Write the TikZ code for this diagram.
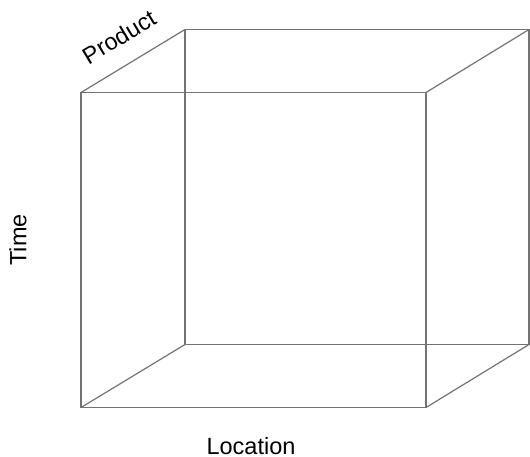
\documentclass[tikz,border=0pt]{standalone}
\usepackage{fontspec}
\setmainfont{Liberation Sans}
\begin{document}
\begin{tikzpicture}[x=1pt,y=-1pt,
  edge/.style={draw=black!55,line width=1.2pt},
  lbl/.style={font=\fontsize{23.5}{26}\selectfont,inner sep=0pt}]
\useasboundingbox (0,0) rectangle (530,457);
\coordinate (ftl) at (81,92.5);
\coordinate (ftr) at (426,92.5);
\coordinate (fbl) at (81,407.5);
\coordinate (fbr) at (426,407.5);
\coordinate (btl) at (185,29.5);
\coordinate (btr) at (529,29.5);
\coordinate (bbl) at (185,344.5);
\coordinate (bbr) at (529,344.5);
\draw[edge] (btl) -- (btr) -- (bbr) -- (bbl) -- cycle;
\draw[edge] (ftl) -- (ftr) -- (fbr) -- (fbl) -- cycle;
\draw[edge] (ftl) -- (btl);
\draw[edge] (ftr) -- (btr);
\draw[edge] (fbl) -- (bbl);
\draw[edge] (fbr) -- (bbr);
\node[lbl,rotate=31] (product) at (119,37) {Product};
\node[lbl,rotate=90] (time) at (18,240) {Time};
\node[lbl] (location) at (251,446) {Location};
\end{tikzpicture}
\end{document}
